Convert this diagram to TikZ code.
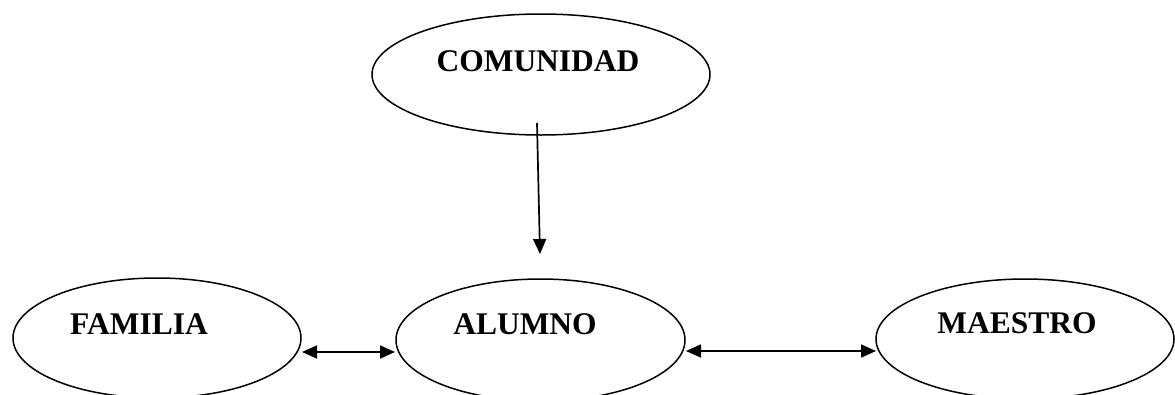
\documentclass[tikz,border=0pt]{standalone}
\usepackage{fontspec}
\setmainfont{Liberation Serif}
\usetikzlibrary{shapes.geometric,arrows.meta}
\begin{document}
\begin{tikzpicture}[x=1pt,y=-1pt,
  oval/.style={draw=black,line width=1.5pt,ellipse,inner sep=0pt},
  lbl/.style={inner sep=0pt,font=\fontsize{31.5}{36}\selectfont\bfseries},
  conn/.style={line width=1.7pt,-{Triangle[length=15pt,width=13pt]}},
  dconn/.style={line width=1.7pt,{Triangle[length=15pt,width=13pt]}-{Triangle[length=15pt,width=13pt]}}]
\useasboundingbox (0,0) rectangle (1175,394);
\node[oval,minimum width=338pt,minimum height=121pt] (com) at (541,74.5) {};
\node[lbl] (comt) at (538,61) {COMUNIDAD};
\node[oval,minimum width=289pt,minimum height=122pt] (alu) at (540.5,340) {};
\node[lbl] (alut) at (525,324) {ALUMNO};
\node[oval,minimum width=288pt,minimum height=120pt] (fam) at (157,338) {};
\node[lbl] (famt) at (139,324) {FAMILIA};
\node[oval,minimum width=298pt,minimum height=120pt] (mae) at (1025,339) {};
\node[lbl] (maet) at (1017,323) {MAESTRO};
\coordinate (cs) at (537,123);
\coordinate (ce) at (540,254);
\coordinate (fa) at (302,352);
\coordinate (al) at (395,352);
\coordinate (ar) at (686,351);
\coordinate (ma) at (876,351);
\draw[conn] (cs) -- (ce);
\draw[dconn] (fa) -- (al);
\draw[dconn] (ar) -- (ma);
\end{tikzpicture}
\end{document}
